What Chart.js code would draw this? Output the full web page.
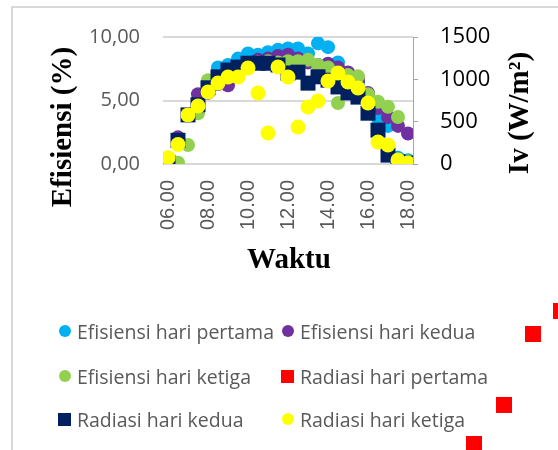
<!DOCTYPE html>
<html>
<head>
<meta charset="utf-8">
<script src="https://cdn.jsdelivr.net/npm/chart.js@4.4.0/dist/chart.umd.min.js"></script>
<style>
html, body { margin: 0; padding: 0; background: #fff; }
.wrap { position: relative; width: 558px; height: 450px; overflow: hidden; }
.frame { position: absolute; left: 11px; top: 6px; width: 640px; height: 520px; border: 2px solid #d9d9d9; }
#chart { position: absolute; left: 0; top: 0; }
.legend { position: absolute; left: 0; top: 0; font-family: 'Open Sans', sans-serif; font-size: 19.5px; color: #595959; }
.item { position: absolute; display: flex; align-items: center; white-space: nowrap; height: 28px; margin-top: -15px; }
.mark { width: 13px; height: 13px; display: flex; align-items: center; justify-content: center; margin-right: 6px; }
.dot { width: 12px; height: 12px; border-radius: 50%; }
.sq { width: 13px; height: 13px; }
</style>
</head>
<body>
<div class="wrap">
  <div class="frame"></div>
  <canvas id="chart" width="558" height="450"></canvas>
  <div class="legend" id="legend"></div>
</div>
<script>
// ---------------- DATA ----------------
const times = [6, 6.5, 7, 7.5, 8, 8.5, 9, 9.5, 10, 10.5, 11, 11.5, 12, 12.5, 13, 13.5, 14, 14.5, 15, 15.5, 16, 16.5, 17, 17.5, 18];

// efisiensi (%), left axis
const effDay1 = [0.5, 1.8, 3.8, 4.6, 5.9, 7.6, 7.8, 8.3, 8.7, 8.6, 8.8, 9.0, 9.1, 9.1, 8.7, 9.5, 9.2, 8.0, 7.0, 6.4, 5.4, 3.6, 3.0, 0.5, 0.3];
const effDay2 = [0.3, 2.1, 3.9, 5.5, 5.6, 6.3, 6.2, 7.4, 7.9, 8.2, 8.3, 8.5, 8.6, 8.3, 8.0, 7.8, 7.9, 7.6, 7.2, 6.6, 5.6, 4.4, 3.7, 3.0, 2.4];
const effDay3 = [0.1, 0.1, 1.5, 4.0, 6.6, 6.9, 7.0, 7.4, 7.8, 8.0, 8.1, 8.0, 8.1, 8.1, 8.2, 7.8, 7.6, 4.8, 7.0, 6.9, 5.5, 4.9, 4.5, 3.7, 0.2];

// radiasi Iv (W/m2), right axis
const radDay2 = [20, 280, 580, 700, 900, 1030, 1110, 1145, 1190, 1190, 1190, 1170, 1075, 1085, 955, 1030, 990, 910, 840, 790, 600, 400, 105, 25, 10];
const radDay3 = [75, 230, 580, 685, 850, 957, 1027, 1027, 1134, 839, 366, 1146, 1027, 437, 673, 744, 980, 1075, 968, 898, 720, 260, 224, 47, 12];

// day 1 radiation ended up far outside the plot in the original
const radDay1Times = [21.3, 22.8, 24.25, 25.65];
const radDay1 = [-3307, -2846, -2008, -1736];

const xTicks = [6, 8, 10, 12, 14, 16, 18];
const effTicks = [0, 5, 10];
const radTicks = [0, 500, 1000, 1500];

const seriesNames = [
  "Efisiensi hari pertama", "Efisiensi hari kedua", "Efisiensi hari ketiga",
  "Radiasi hari pertama", "Radiasi hari kedua", "Radiasi hari ketiga"
];

const pts = (xs, ys) => xs.map((x, i) => ({ x, y: ys[i] }));

// ---------------- PLUGINS ----------------
const offAreaPoints = {
  id: "offAreaPoints",
  afterDatasetsDraw(chart) {
    const { ctx } = chart;
    const xs = chart.scales.x, ys = chart.scales.y1;
    chart.data.datasets.forEach(ds => {
      if (!ds.drawOutside) return;
      ctx.save();
      ctx.fillStyle = ds.backgroundColor;
      ds.data.forEach(p => {
        const px = xs.getPixelForValue(p.x), py = ys.getPixelForValue(p.y);
        ctx.fillRect(px - 8, py - 8, 16, 16);
      });
      ctx.restore();
    });
  }
};

const axisTitles = {
  id: "axisTitles",
  afterDraw(chart) {
    const { ctx } = chart;
    ctx.save();
    ctx.fillStyle = "#000";
    ctx.font = 'bold 29px "Liberation Serif"';
    ctx.textAlign = "center";
    ctx.textBaseline = "middle";
    ctx.fillText("Waktu", 289, 261);
    ctx.translate(64, 127);
    ctx.rotate(-Math.PI / 2);
    ctx.fillText("Efisiensi (%)", 0, 0);
    ctx.rotate(Math.PI / 2);
    ctx.translate(521 - 64, 113 - 127);
    ctx.rotate(-Math.PI / 2);
    ctx.fillText("Iv (W/m\u00B2)", 0, 0);
    ctx.restore();
  }
};

// ---------------- CHART ----------------
const chart = new Chart(document.getElementById("chart"), {
  type: "scatter",
  data: {
    datasets: [
      { label: seriesNames[0], data: pts(times, effDay1), yAxisID: "y", backgroundColor: "#00B0F0", borderColor: "#00B0F0", pointStyle: "circle", pointRadius: 7, order: 6 },
      { label: seriesNames[1], data: pts(times, effDay2), yAxisID: "y", backgroundColor: "#7030A0", borderColor: "#7030A0", pointStyle: "circle", pointRadius: 7, order: 5 },
      { label: seriesNames[2], data: pts(times, effDay3), yAxisID: "y", backgroundColor: "#92D050", borderColor: "#92D050", pointStyle: "circle", pointRadius: 7, order: 4 },
      { label: seriesNames[3], data: pts(radDay1Times, radDay1), yAxisID: "y1", backgroundColor: "#FF0000", borderColor: "#FF0000", pointStyle: "rect", pointRadius: 11, order: 3, drawOutside: true },
      { label: seriesNames[4], data: pts(times, radDay2), yAxisID: "y1", backgroundColor: "#002060", borderColor: "#002060", pointStyle: "rect", pointRadius: 10.6, order: 2 },
      { label: seriesNames[5], data: pts(times, radDay3), yAxisID: "y1", backgroundColor: "#FFFF00", borderColor: "#FFFF00", pointStyle: "circle", pointRadius: 7.5, order: 1 }
    ]
  },
  options: {
    responsive: false,
    animation: false,
    devicePixelRatio: 1,
    layout: { padding: { top: 37, left: 0, right: 0, bottom: 0 } },
    plugins: { legend: { display: false }, tooltip: { enabled: false } },
    elements: { point: { borderWidth: 0, hoverRadius: 7 } },
    scales: {
      x: {
        type: "linear",
        min: 5.75,
        max: 18.25,
        afterBuildTicks: s => { s.ticks = xTicks.map(v => ({ value: v })); },
        afterFit: s => { s.height = 286; },
        grid: { display: false, drawTicks: false },
        border: { display: false },
        ticks: {
          minRotation: 90,
          maxRotation: 90,
          padding: 16,
          color: "#595959",
          font: { family: "Liberation Sans", size: 20 },
          callback: v => String(v).padStart(2, "0") + ".00"
        }
      },
      y: {
        position: "left",
        min: 0,
        max: 10,
        afterBuildTicks: s => { s.ticks = effTicks.map(v => ({ value: v })); },
        afterFit: s => { s.width = 163; },
        grid: { color: "#d9d9d9", lineWidth: 2, drawTicks: false },
        border: { display: false },
        ticks: {
          padding: 23,
          color: "#595959",
          font: { family: "Open Sans", size: 20 },
          callback: v => v.toFixed(2).replace(".", ",")
        }
      },
      y1: {
        position: "right",
        min: 0,
        max: 1500,
        afterBuildTicks: s => { s.ticks = radTicks.map(v => ({ value: v })); },
        afterFit: s => { s.width = 145; },
        grid: { drawOnChartArea: false, color: "#a6a6a6", tickLength: 5 },
        border: { display: true, color: "#a6a6a6", width: 1 },
        ticks: {
          padding: 22,
          color: "#000",
          font: { family: "Open Sans", size: 22 },
          callback: v => String(v)
        }
      }
    }
  },
  plugins: [offAreaPoints, axisTitles]
});

// ---------------- LEGEND ----------------
const legendCols = [58, 281];
const legendRows = [332, 377, 420];
const legendEl = document.getElementById("legend");
chart.data.datasets.forEach((ds, i) => {
  const item = document.createElement("div");
  item.className = "item";
  item.style.left = legendCols[i % 2] + "px";
  item.style.top = legendRows[Math.floor(i / 2)] + "px";
  const shape = ds.pointStyle === "rect" ? "sq" : "dot";
  item.innerHTML = `<span class="mark"><span class="${shape}" style="background:${ds.backgroundColor}"></span></span><span>${ds.label}</span>`;
  legendEl.appendChild(item);
});
</script>
</body>
</html>
